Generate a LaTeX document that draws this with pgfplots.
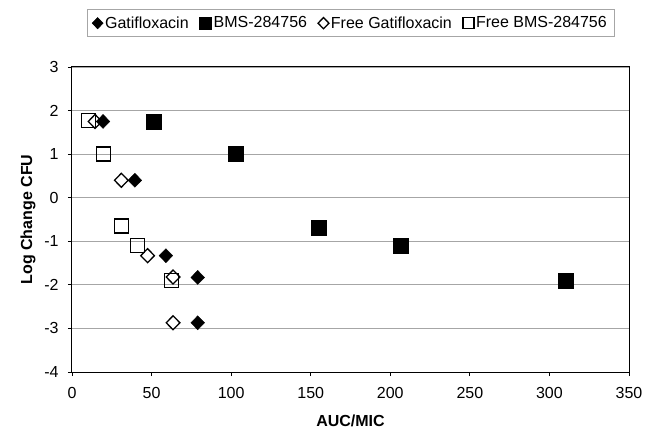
\documentclass[border=0pt]{standalone}
\usepackage{fontspec}
\setmainfont{Liberation Sans}
\usepackage{pgfplots}
\pgfplotsset{compat=1.18}
\newcommand\fs{\fontsize{16bp}{19bp}\selectfont}
\begin{document}
\begin{tikzpicture}
\path[use as bounding box] (-72bp,-72bp) rectangle (575bp,372bp);
\begin{axis}[
  at={(0,0)}, anchor=south west,
  scale only axis, width=557bp, height=305bp,
  xmin=0, xmax=350, ymin=-4, ymax=3,
  xtick={0,50,...,350}, xticklabels={0,50,100,150,200,250,300,350},
  ytick={-4,-3,...,3}, yticklabels={-4,-3,-2,-1,0,1,2,3},
  ymajorgrids, grid style={gray!70, line width=0.9bp},
  axis line style={black, line width=1bp},
  tick align=outside, major tick length=4bp, tick style={black, line width=0.8bp},
  xtick pos=bottom, ytick pos=left,
  tick label style={font=\fs},
  xticklabel style={yshift=-8bp},
  yticklabel style={xshift=-6bp},
  xlabel={\textbf{AUC/MIC}}, ylabel={\textbf{Log Change CFU}},
  label style={font=\fs},
  xlabel style={at={(axis description cs:0.5,-0.161)}, anchor=center},
  ylabel style={at={(axis description cs:-0.079,0.5)}, anchor=center},
  legend columns=4,
  legend style={at={(0.5,1)}, anchor=south, yshift=30bp, font=\fs,
    draw=gray!70, line width=0.6bp, inner xsep=5bp, inner ysep=5bp,
    /tikz/every even column/.append style={column sep=9bp}},
  legend image code/.code={\draw[#1] plot coordinates {(0.2cm,0cm)};},
  legend image post style={scale=0.8},
]
\addplot[only marks, mark=diamond*, mark size=7bp, draw=black, fill=black,
  mark options={xscale=1.3}]
  coordinates {(19.5,1.75) (39.5,0.40) (59,-1.33) (79,-1.83) (79,-2.87)};
\addlegendentry{Gatifloxacin}
\addplot[only marks, mark=square*, mark size=7.5bp, draw=black, fill=black]
  coordinates {(51.5,1.75) (103,1.0) (155,-0.68) (206.5,-1.1) (310,-1.9)};
\addlegendentry{BMS-284756}
\addplot[only marks, mark=diamond, mark size=7bp, draw=black, line width=1.3bp,
  mark options={xscale=1.3}]
  coordinates {(14.5,1.75) (31,0.40) (47.5,-1.33) (63.5,-1.82) (63.5,-2.87)};
\addlegendentry{Free Gatifloxacin}
\addplot[only marks, mark=square, mark size=7bp, draw=black, line width=1.3bp]
  coordinates {(10.5,1.78) (20,1.0) (31,-0.65) (41,-1.1) (62.5,-1.9)};
\addlegendentry{Free BMS-284756}
\end{axis}
\end{tikzpicture}
\end{document}
